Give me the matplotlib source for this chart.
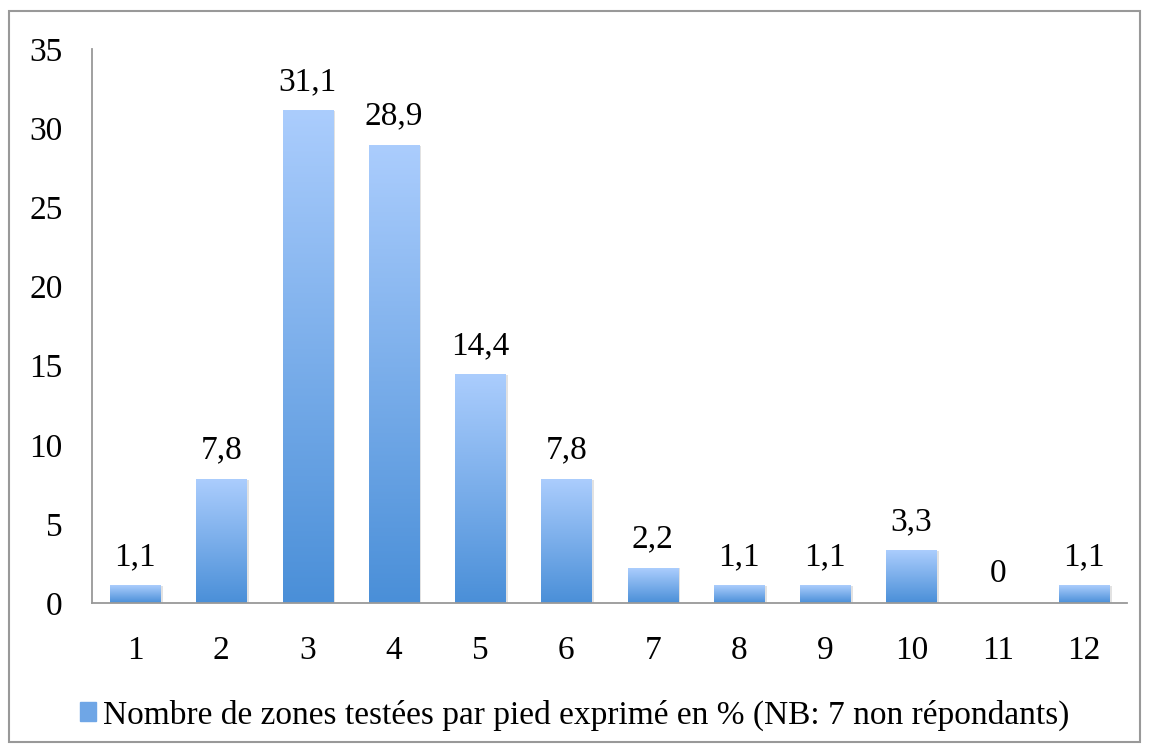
import numpy as np
import matplotlib.pyplot as plt
from matplotlib.colors import LinearSegmentedColormap
from matplotlib.patches import Rectangle

categories = [str(i) for i in range(1, 13)]
values = [1.1, 7.8, 31.1, 28.9, 14.4, 7.8, 2.2, 1.1, 1.1, 3.3, 0, 1.1]
series_name = "Nombre de zones testées par pied exprimé en % (NB: 7 non répondants)"

plt.rcParams['font.family'] = ['Liberation Serif', 'DejaVu Serif']
plt.rcParams['font.size'] = 24

fig = plt.figure(figsize=(11.49, 7.53), dpi=100)
ax = fig.add_axes([0.080, 0.199, 0.901, 0.736])

grad = LinearSegmentedColormap.from_list("g", ["#4a8fd8", "#abcdfd"])
x = np.arange(len(values))
bars = ax.bar(x, values, 0.58, color="#6fa6e6", edgecolor="none", label=series_name)
gimg = np.linspace(0, 1, 256).reshape(-1, 1)
for b in bars:
    h = b.get_height()
    if h <= 0:
        continue
    b.set_alpha(0)
    ax.imshow(gimg, cmap=grad, origin="lower", aspect="auto",
              extent=[b.get_x(), b.get_x() + b.get_width(), 0, h], zorder=2)
    # faint shadow on the right
    ax.add_patch(Rectangle((b.get_x() + b.get_width(), 0), 0.03, h,
                           color="#e2e2e2", zorder=1, lw=0))

for xi, v in zip(x, values):
    lab = ("%g" % v).replace(".", ",")
    ax.annotate(lab, (xi, v), xytext=(0, 10), textcoords="offset points",
                ha="center", va="bottom")

ax.set_xlim(-0.5, len(values) - 0.5)
ax.set_ylim(0, 35)
ax.set_yticks(range(0, 36, 5))
ax.set_xticks(x)
ax.set_xticklabels(categories)
ax.tick_params(axis="x", length=0, pad=23)
ax.tick_params(axis="y", length=0, pad=21)
for s in ["top", "right"]:
    ax.spines[s].set_visible(False)
for s in ["left", "bottom"]:
    ax.spines[s].set_color("#999999")
    ax.spines[s].set_linewidth(1.3)

leg = fig.legend(handles=[Rectangle((0, 0), 1, 1, color="#6fa6e6")], labels=[series_name],
                 loc="center", bbox_to_anchor=(0.5, 0.05), frameon=False,
                 handlelength=0.5, handleheight=0.5, handletextpad=0.2)

fig.patches.append(Rectangle((9 / 1149, 11 / 753), 1131 / 1149, 731 / 753,
                             transform=fig.transFigure, fill=False,
                             edgecolor="#999999", lw=1.5))

fig.savefig("out.png", dpi=100)
